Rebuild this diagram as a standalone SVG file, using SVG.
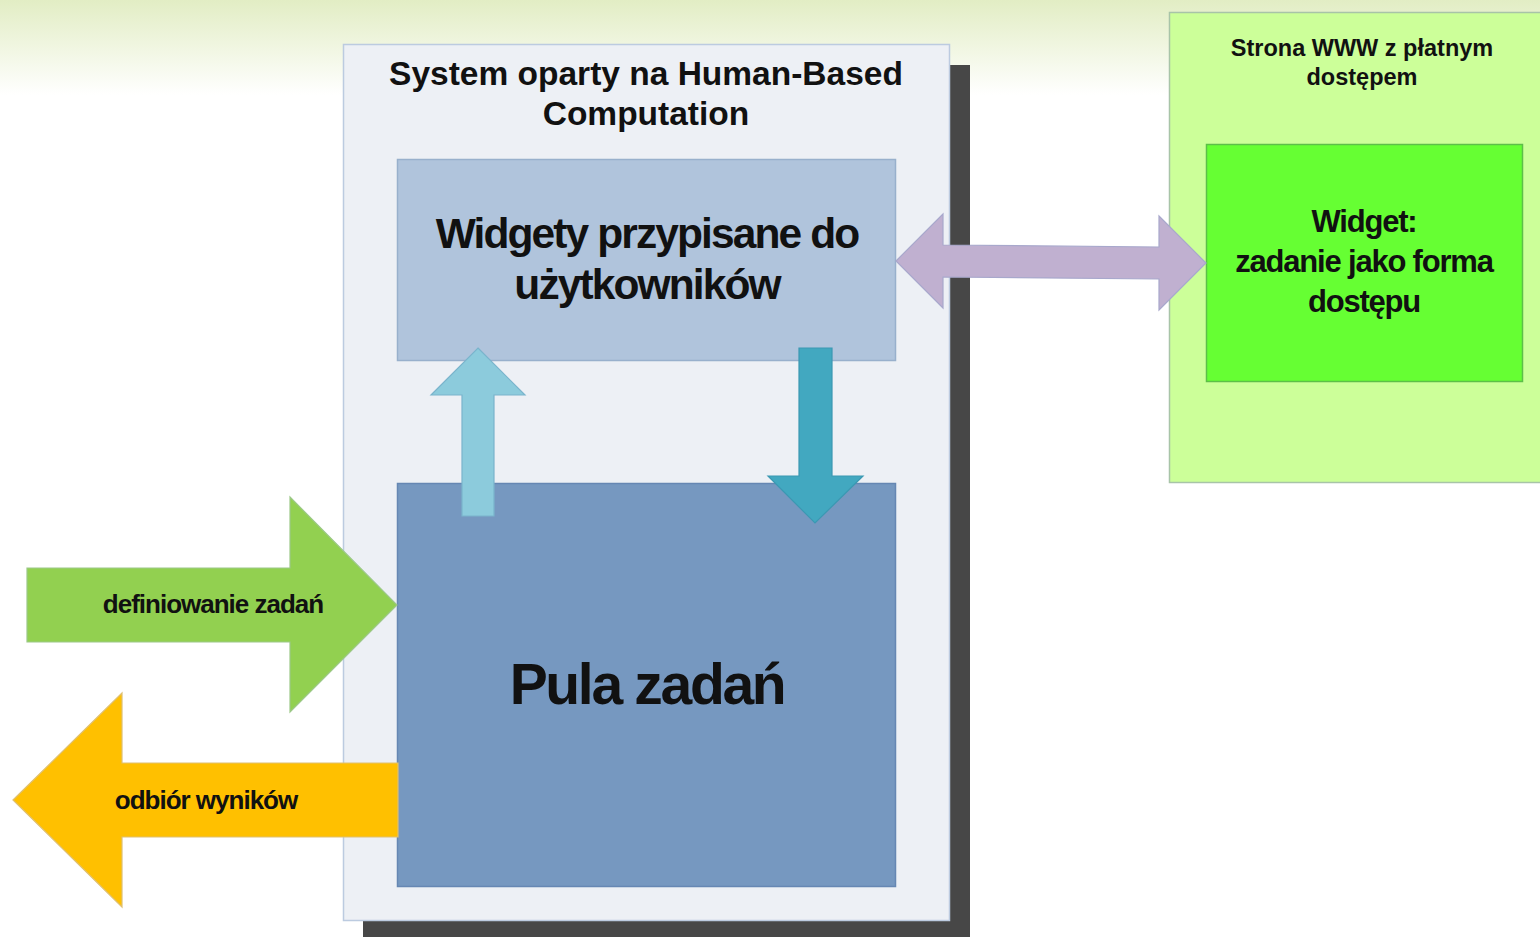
<svg xmlns="http://www.w3.org/2000/svg" width="1540" height="937" viewBox="0 0 1540 937">
<defs>
<linearGradient id="bg" x1="0" y1="0" x2="0" y2="1">
<stop offset="0" stop-color="#e2edc4"/>
<stop offset="1" stop-color="#ffffff"/>
</linearGradient>
<style>
.t{font-family:"Liberation Sans",Arial,sans-serif;font-weight:bold;fill:#111;text-anchor:middle}
.box{stroke-width:1.5}
.arr{stroke-width:1.2}
</style>
</defs>
<rect x="0" y="0" width="1540" height="937" fill="#ffffff"/>
<rect x="0" y="0" width="1540" height="95" fill="url(#bg)"/>

<g id="system">
<rect x="363" y="65" width="607" height="880" fill="#474747"/>
<rect class="box" x="343.5" y="44.5" width="606" height="876" fill="#edf0f5" stroke="#bccbe0"/>
<text class="t" x="646" y="85" font-size="33.5">System oparty na Human-Based</text>
<text class="t" x="646" y="125" font-size="33.5">Computation</text>
</g>

<g id="widgety">
<rect class="box" x="397.5" y="159.5" width="498" height="201" fill="#b0c4dc" stroke="#98b0cc"/>
<text class="t" x="647" y="248" font-size="42.5" letter-spacing="-1.9">Widgety przypisane do</text>
<text class="t" x="647" y="299" font-size="42.5" letter-spacing="-1.9">użytkowników</text>
</g>

<g id="pula">
<rect class="box" x="397.5" y="483.5" width="498" height="403" fill="#7698c0" stroke="#6687b3"/>
<text class="t" x="647" y="704" font-size="57" letter-spacing="-2.3">Pula zadań</text>
</g>

<g id="strona">
<rect class="box" x="1169.5" y="12.5" width="380" height="470" fill="#ccff99" stroke="#a8c4a8"/>
<text class="t" x="1362" y="56" font-size="23.5">Strona WWW z płatnym</text>
<text class="t" x="1362" y="85" font-size="23.5">dostępem</text>
</g>

<g id="widget">
<rect class="box" x="1206.5" y="144.5" width="316" height="237" fill="#66ff33" stroke="#5cbf48"/>
<text class="t" x="1364" y="232" font-size="31" letter-spacing="-1.2">Widget:</text>
<text class="t" x="1364" y="272" font-size="31" letter-spacing="-1.2">zadanie jako forma</text>
<text class="t" x="1364" y="312" font-size="31" letter-spacing="-1.2">dostępu</text>
</g>

<g id="connectors">
<polygon class="arr" points="478,348 525,395 494,395 494,516 462,516 462,395 431,395" fill="#8ccbdc" stroke="#7ab4cc"/>
<polygon class="arr" points="799,348 832,348 832,476 863,476 815,523 768,476 799,476" fill="#42a8c0" stroke="#3b98b2"/>
<polygon class="arr" points="896,261 943,214 943,245 1159,247 1159,216 1206,263 1159,310 1159,279 943,277 943,308" fill="#c0b0d0" stroke="#a8a8cc"/>
<g id="definiowanie">
<polygon class="arr" points="27,568 290,568 290,497 397,605 290,712 290,642 27,642" fill="#92d050" stroke="#9cc888"/>
<text class="t" x="213" y="613" font-size="26" letter-spacing="-1.0">definiowanie zadań</text>
</g>
<g id="odbior">
<polygon class="arr" points="13,800 122,693 122,763 398,763 398,837 122,837 122,907" fill="#ffc000" stroke="#e0c070"/>
<text class="t" x="206" y="809" font-size="26" letter-spacing="-1.0">odbiór wyników</text>
</g>
</g>
</svg>
